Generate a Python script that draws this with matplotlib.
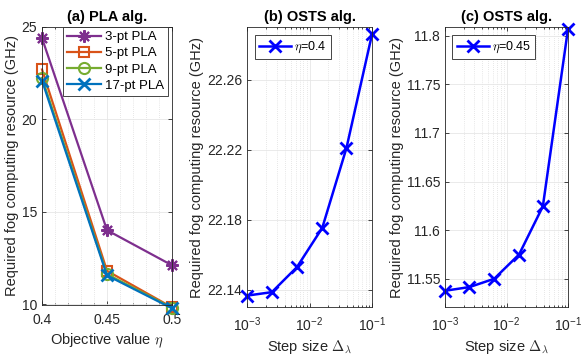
import matplotlib
matplotlib.use("Agg")
import matplotlib.pyplot as plt
from matplotlib.ticker import MultipleLocator, LogLocator, NullFormatter, FixedLocator

plt.rcParams['font.family'] = ['Liberation Sans', 'DejaVu Sans']
plt.rcParams['mathtext.fontset'] = 'cm'

# Panel (a) data
eta = [0.4, 0.45, 0.5]
pla3 = [24.4, 14.0, 12.1]
pla5 = [22.7, 11.8, 9.82]
pla9 = [22.25, 11.62, 9.8]
pla17 = [22.1, 11.55, 9.77]

# Panel (b) and (c) data
step = [0.001, 0.0025, 0.0063, 0.016, 0.039, 0.1]
osts_b = [22.1365, 22.1385, 22.1528, 22.1752, 22.2208, 22.2858]
osts_c = [11.5377, 11.5415, 11.5500, 11.5750, 11.6245, 11.8070]

AXC = '#262626'
W, H = 581, 360
fig = plt.figure(figsize=(W/100, H/100), dpi=100)

def ax_at(l, r, t, b):
    return fig.add_axes([l/W, (H-b)/H, (r-l)/W, (b-t)/H])

def style(ax):
    for s in ax.spines.values():
        s.set_color(AXC)
        s.set_linewidth(0.6)
    ax.tick_params(which='both', direction='in', top=True, right=True,
                   colors=AXC, labelcolor=AXC, labelsize=10, width=0.6)
    ax.tick_params(axis='x', which='major', pad=6)
    ax.tick_params(which='major', length=3)
    ax.tick_params(which='minor', length=1.5)
    ax.grid(True, which='major', color='#e6e6e6', lw=0.6)
    ax.grid(True, which='minor', color='#d0d0d0', lw=0.5, ls=(0, (1, 2)))
    ax.set_axisbelow(True)

ylab = 'Required fog computing resource (GHz)'

# (a)
ax = ax_at(42, 172, 27, 305)
style(ax)
lw = 1.6
ax.plot(eta, pla3, color='#7E2F8E', marker=(8, 2, 0), ms=9, lw=lw, mew=1.5, label='3-pt PLA', clip_on=False)
ax.plot(eta, pla5, color='#D95319', marker='s', ms=7, mfc='none', lw=lw, mew=1.5, label='5-pt PLA', clip_on=False)
ax.plot(eta, pla9, color='#77AC30', marker='o', ms=8, mfc='none', lw=lw, mew=1.5, label='9-pt PLA', clip_on=False)
ax.plot(eta, pla17, color='#0072BD', marker='x', ms=8, lw=lw, mew=2, label='17-pt PLA', clip_on=False)
ax.set_xlim(0.4, 0.5)
ax.set_ylim(9.95, 25)
ax.set_xticks([0.4, 0.45, 0.5])
ax.set_xticklabels(['0.4', '0.45', '0.5'])
ax.xaxis.set_minor_locator(MultipleLocator(0.01))
ax.set_yticks([10, 15, 20, 25])
ax.yaxis.set_minor_locator(FixedLocator([]))
ax.set_xlabel(r'Objective value $\eta$', fontsize=10.5, color=AXC, labelpad=3)
ax.set_ylabel(ylab, fontsize=10.5, color=AXC, labelpad=2)
ax.set_title('(a) PLA alg.', fontsize=10.5, fontweight='bold', pad=4)
leg = ax.legend(loc='upper right', fontsize=9.5, handlelength=2.6, borderaxespad=0.0,
                bbox_to_anchor=(0.97, 1.0),
                fancybox=False, framealpha=1, edgecolor=AXC, borderpad=0.3,
                labelspacing=0.3, handletextpad=0.3)
leg.get_frame().set_linewidth(0.6)

def panel_log(l, r, y, ylim, yticks, yfmt, label, title):
    ax = ax_at(l, r, 27, 307)
    style(ax)
    ax.set_xscale('log')
    ax.plot(step, y, color='#0000FF', marker='x', ms=8, mew=2, lw=1.8, label=label, clip_on=False)
    ax.set_xlim(1e-3, 1e-1)
    ax.set_ylim(*ylim)
    ax.set_xticks([1e-3, 1e-2, 1e-1])
    ax.xaxis.set_minor_locator(LogLocator(base=10, subs=range(2, 10)))
    ax.xaxis.set_minor_formatter(NullFormatter())
    ax.set_yticks(yticks)
    ax.set_yticklabels([yfmt(v) for v in yticks])
    ax.set_xlabel(r'Step size $\Delta_\lambda$', fontsize=10.5, color=AXC, labelpad=3)
    ax.set_ylabel(ylab, fontsize=10.5, color=AXC, labelpad=2)
    ax.set_title(title, fontsize=10.5, fontweight='bold', pad=4)
    leg = ax.legend(loc='upper left', fontsize=9, handlelength=2.6,
                    bbox_to_anchor=(0.06, 0.97), borderaxespad=0.0,
                    fancybox=False, framealpha=1, edgecolor=AXC, borderpad=0.35,
                    handletextpad=0.2)
    leg.get_frame().set_linewidth(0.6)
    return ax

panel_log(247, 372, osts_b, (22.13, 22.29), [22.14, 22.18, 22.22, 22.26],
          lambda v: f'{v:.2f}', r'$\eta$=0.4', '(b) OSTS alg.')
panel_log(445, 568, osts_c, (11.521, 11.809), [11.55, 11.6, 11.65, 11.7, 11.75, 11.8],
          lambda v: f'{v:g}', r'$\eta$=0.45', '(c) OSTS alg.')

fig.savefig('out.png', dpi=100)
